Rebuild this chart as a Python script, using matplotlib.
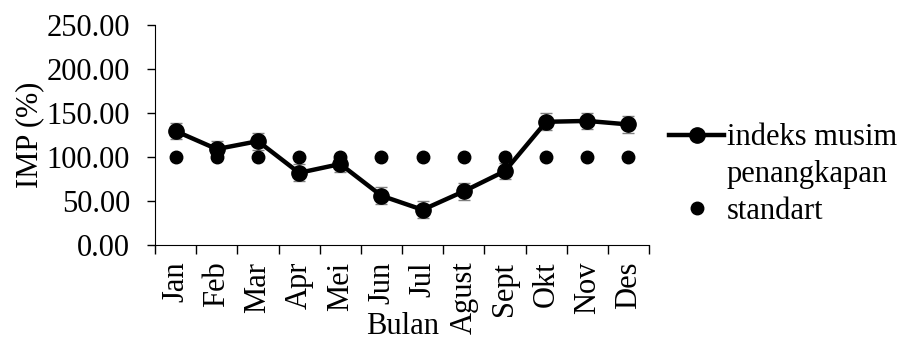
import matplotlib
matplotlib.use("Agg")
import matplotlib.pyplot as plt
from matplotlib.lines import Line2D
import numpy as np

months = ["Jan", "Feb", "Mar", "Apr", "Mei", "Jun", "Jul", "Agust", "Sept", "Okt", "Nov", "Des"]
imp = [129.5, 109, 118, 82, 92, 56, 40, 61, 84, 140, 141, 137]
err = [9.5, 9.5, 9.5, 9.5, 9.5, 9.5, 9.5, 9.5, 9.5, 9.5, 9.5, 9.5]
standart = [100] * 12
yticks = [0, 50, 100, 150, 200, 250]

plt.rcParams['font.family'] = ['Liberation Serif', 'DejaVu Serif']
FS = 22

fig = plt.figure(figsize=(9.08, 3.43), dpi=100)
ax = fig.add_axes([0.1707, 0.2857, 0.5441, 0.6414])
x = np.arange(len(months))

ax.errorbar(x, imp, yerr=err, fmt='none', ecolor='#7f7f7f', elinewidth=1.0, capsize=4.3, capthick=1.0, zorder=2)
std_line, = ax.plot(x, standart, linestyle='none', marker='o', color='black', markersize=9, zorder=3)
imp_line, = ax.plot(x, imp, color='black', linewidth=3.2, marker='o', markersize=11, zorder=4)

ax.set_xlim(-0.5, len(months) - 0.5)
ax.set_ylim(0, 250)
ax.set_yticks(yticks)
ax.set_yticklabels([f"{v:.2f}" for v in yticks], fontsize=FS)
ax.set_xticks(x)
ax.set_xticklabels(months, rotation=90, fontsize=FS)
ax.set_xticks(np.arange(-0.5, len(months), 1), minor=True)
ax.tick_params(axis='x', which='major', length=0, pad=12)
ax.tick_params(axis='x', which='minor', length=6.5, width=1)
ax.tick_params(axis='y', length=6, width=1, pad=12)
for s in ['top', 'right']:
    ax.spines[s].set_visible(False)
ax.set_ylabel("IMP (%)", fontsize=FS)
ax.yaxis.set_label_coords(-0.225, 0.5)
ax.set_xlabel("Bulan", fontsize=FS)
ax.xaxis.set_label_coords(0.502, -0.305)

blank = Line2D([], [], linestyle='none', marker=None)
leg = fig.legend([imp_line, blank, std_line], ["indeks musim", "penangkapan", "standart"],
                 loc='upper left', bbox_to_anchor=(0.737, 0.640), frameon=False,
                 fontsize=FS, handlelength=1.8, handletextpad=0.08, labelspacing=0.25,
                 borderpad=0, borderaxespad=0)

fig.savefig("out.png", dpi=100)
